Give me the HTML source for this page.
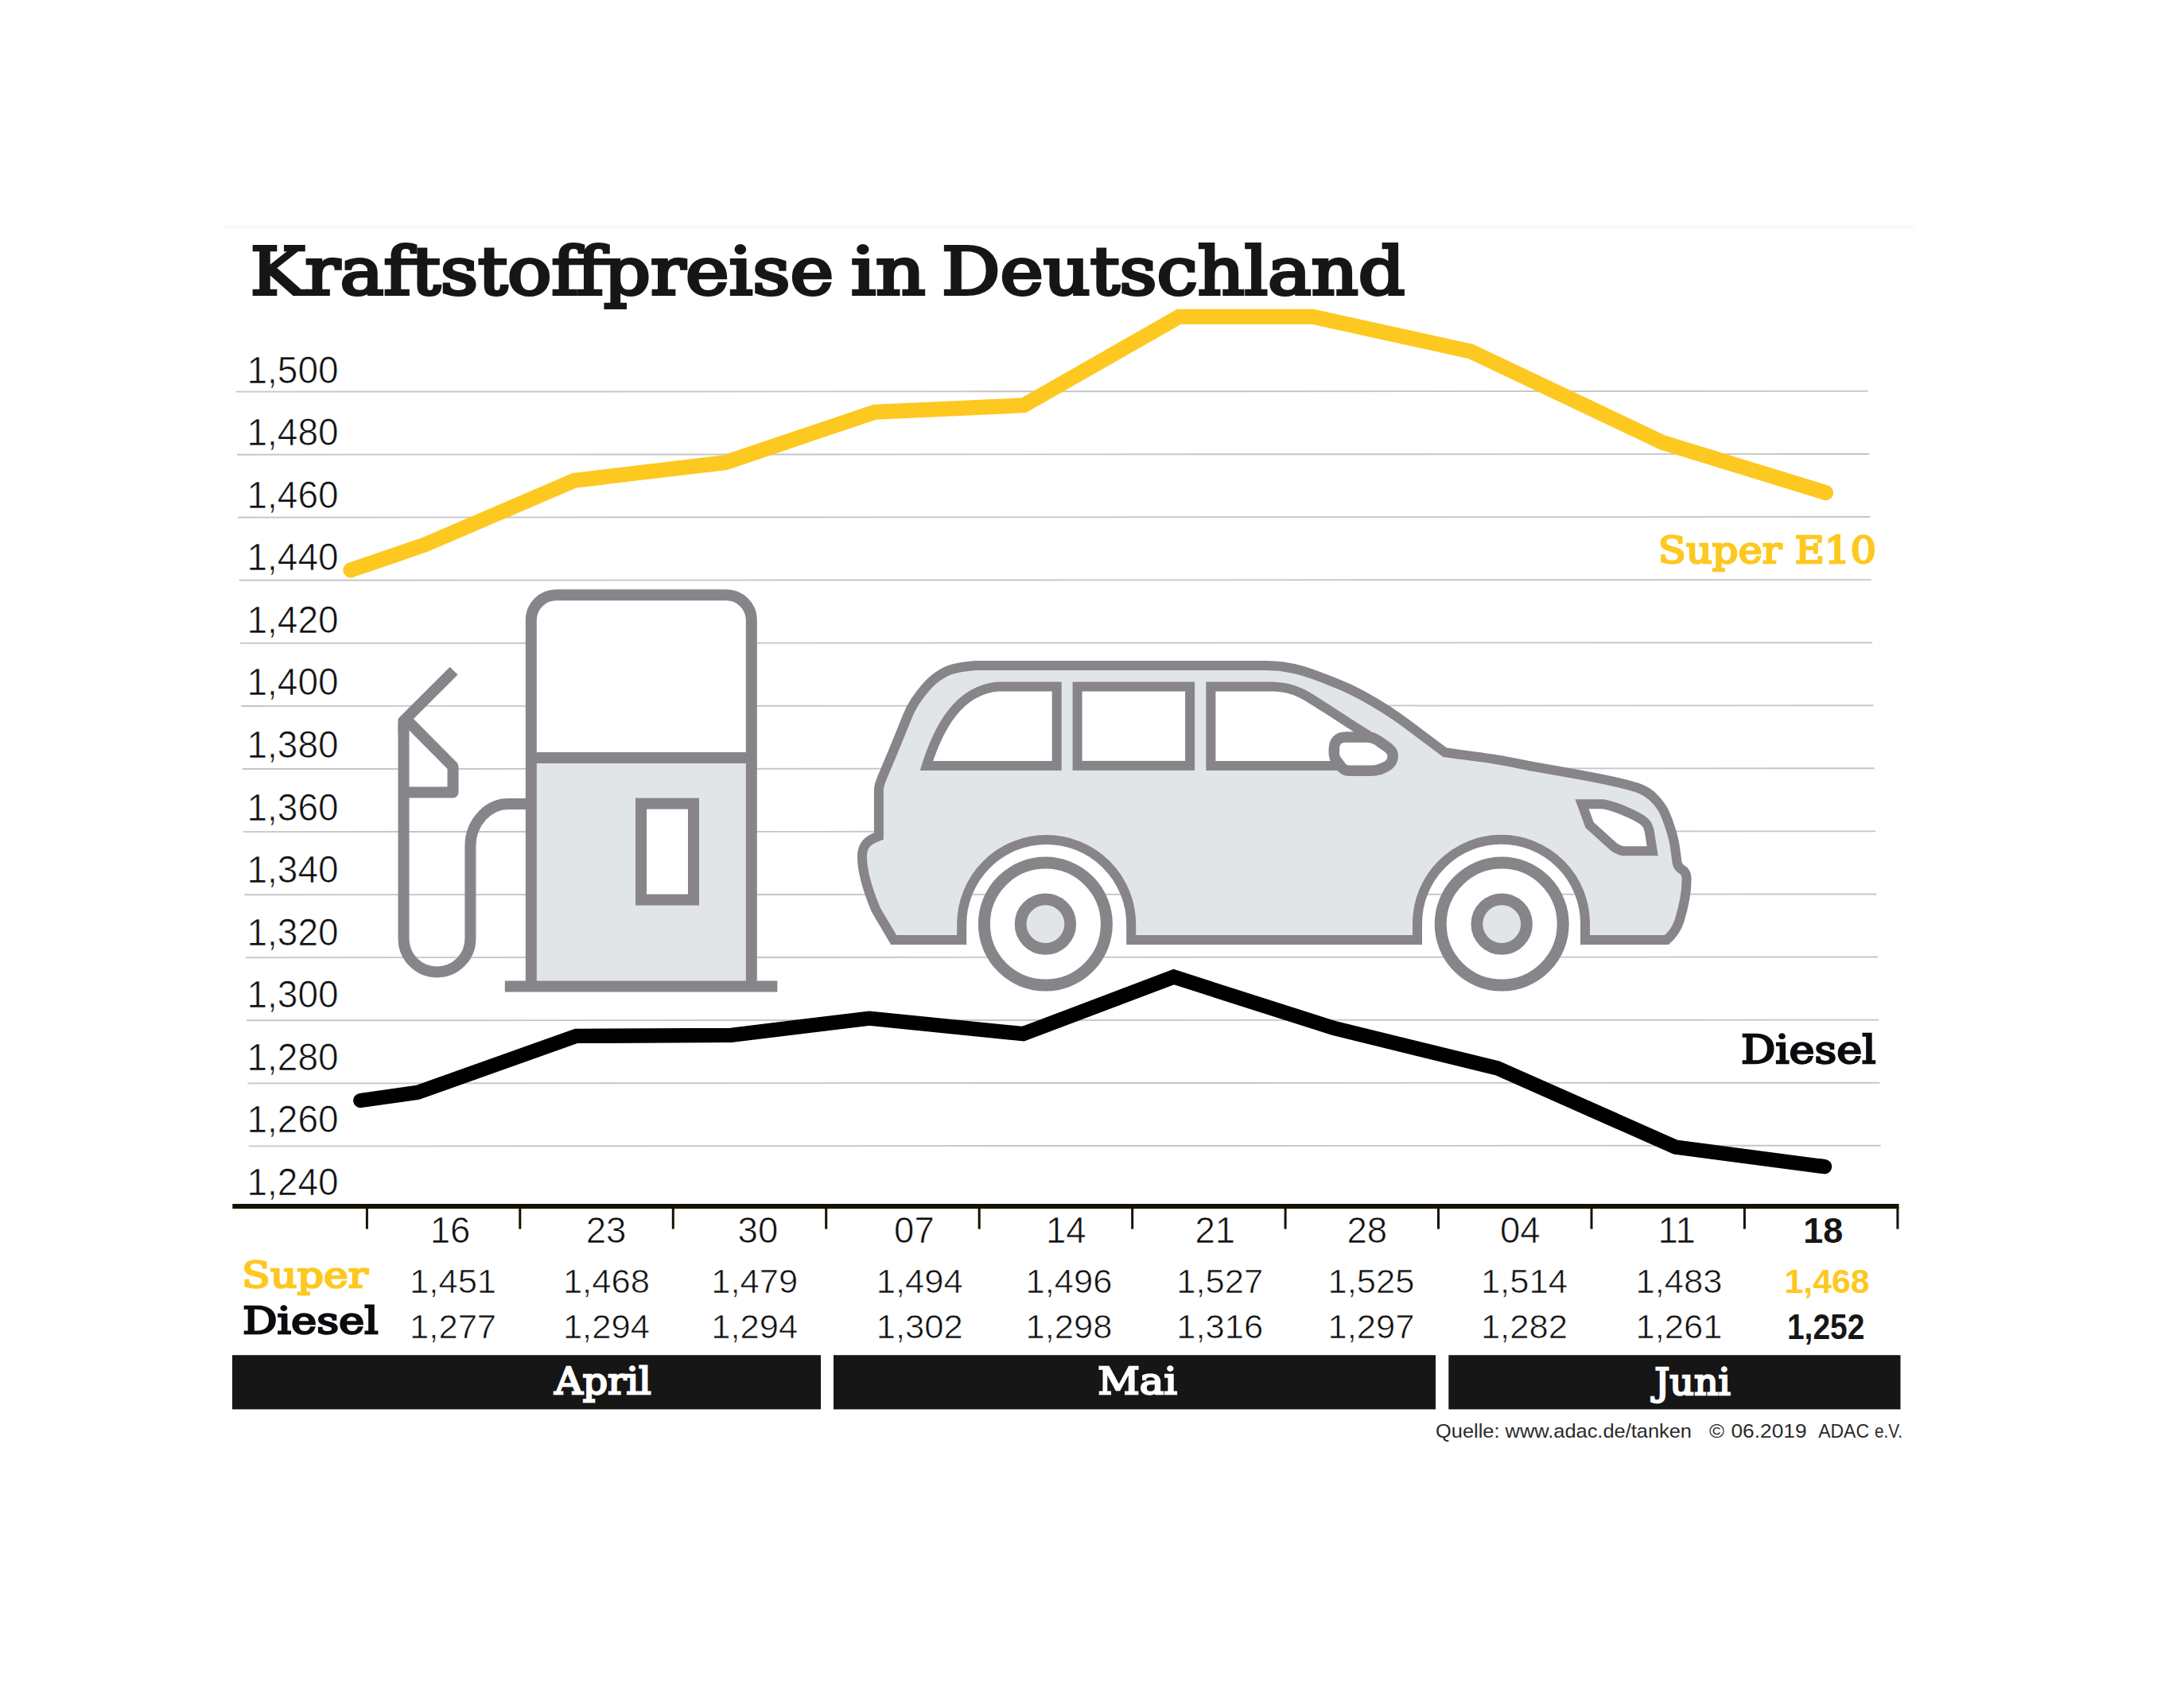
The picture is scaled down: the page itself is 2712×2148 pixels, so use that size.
<!DOCTYPE html>
<html lang="de"><head><meta charset="utf-8"><title>Kraftstoffpreise in Deutschland</title>
<style>html,body{margin:0;padding:0;background:#fff}svg{display:block}.sl{font-family:"DejaVu Serif","Liberation Serif",serif;font-weight:700}.sb{font-family:"DejaVu Serif","Liberation Serif",serif;font-weight:400;stroke-linejoin:miter}.lt{font-family:"Liberation Sans","DejaVu Sans",sans-serif;fill:#111;stroke:#fff;stroke-width:0.7px}.bd{font-family:"Liberation Sans","DejaVu Sans",sans-serif;font-weight:700}</style></head><body>
<svg width="2712" height="2148" viewBox="0 0 2712 2148">
<rect width="2712" height="2148" fill="#fff"/>
<line x1="280" y1="285.3" x2="2406" y2="285.3" stroke="#f6f6f6" stroke-width="3"/>
<g stroke="#c6c6c7" stroke-width="1.9">
<line x1="296.5" y1="492.6" x2="2348.8" y2="491.9"/>
<line x1="297.9" y1="571.7" x2="2350.1" y2="571.0"/>
<line x1="299.2" y1="650.7" x2="2351.5" y2="650.0"/>
<line x1="300.6" y1="729.8" x2="2352.8" y2="729.1"/>
<line x1="301.9" y1="808.9" x2="2354.1" y2="808.2"/>
<line x1="303.2" y1="888.0" x2="2355.5" y2="887.2"/>
<line x1="304.6" y1="967.0" x2="2356.8" y2="966.3"/>
<line x1="305.9" y1="1046.1" x2="2358.1" y2="1045.4"/>
<line x1="307.3" y1="1125.2" x2="2359.4" y2="1124.5"/>
<line x1="308.6" y1="1204.2" x2="2360.8" y2="1203.5"/>
<line x1="310.0" y1="1283.3" x2="2362.1" y2="1282.6"/>
<line x1="311.4" y1="1362.4" x2="2363.4" y2="1361.7"/>
<line x1="312.7" y1="1441.4" x2="2364.8" y2="1440.7"/>
</g>
<g fill="none" stroke="#87858a" stroke-width="14" stroke-linejoin="miter">
<path d="M667.8 1240.6V779.8A31.6 31.6 0 0 1 699.4 748.2H913.2A31.6 31.6 0 0 1 944.8 779.8V1240.6Z" fill="#fff" stroke="none"/>
<rect x="667.8" y="952.9" width="277" height="287.7" fill="#e2e5e8" stroke="none"/>
<path d="M667.8 1240.6V779.8A31.6 31.6 0 0 1 699.4 748.2H913.2A31.6 31.6 0 0 1 944.8 779.8V1240.6"/>
<path d="M667.8 952.9H944.8"/>
<path d="M634.8 1240.6H977.3"/>
<rect x="806" y="1010.6" width="66" height="121" fill="#fff"/>
<clipPath id="cl"><rect x="500.5" y="800" width="200" height="300"/></clipPath>
<path d="M570.6 843.6L495 919.2" clip-path="url(#cl)"/>
<path d="M507.5 901.5L569.5 964V996.6H507.5" stroke-linejoin="round" fill="#fff"/>
<path d="M507.5 908V1180.5A41.95 41.95 0 0 0 591.4 1180.5V1064A48 53 0 0 1 639.4 1011.1H668"/>
</g>
<g stroke="#87858a" stroke-width="12" stroke-linejoin="miter" fill="none">
<path d="M1226 836.9H1590C1600.3 837.1 1603.9 837.1 1612.0 838.3C1620.1 839.5 1629.3 841.2 1638.7 843.9C1648.1 846.6 1658.3 850.6 1668.2 854.5C1678.1 858.4 1688.0 862.2 1697.9 867.0C1707.8 871.8 1717.7 877.1 1727.6 883.0C1737.5 888.9 1747.5 895.2 1757.4 902.1C1767.4 909.0 1777.4 916.9 1787.3 924.3C1797.2 931.7 1807.0 939.0 1816.8 946.3C1839.2 949.4 1865.4 952.6 1884.0 955.6C1902.6 958.6 1911.1 961.0 1928.4 964.2C1945.7 967.4 1970.4 971.4 1987.7 974.6C2005.0 977.8 2019.6 980.7 2032.2 983.6C2044.8 986.5 2055.5 989.3 2063.1 992.3C2070.7 995.3 2073.0 997.5 2077.5 1001.6C2082.0 1005.7 2086.7 1011.1 2090.2 1017.0C2093.7 1022.9 2096.3 1030.4 2098.7 1037.2C2101.1 1044.0 2103.0 1050.0 2104.6 1057.7C2106.2 1065.4 2107.5 1077.1 2108.4 1083.3L2108.6 1085Q2109.5 1090 2114 1093Q2120.3 1096.5 2120.5 1104C2121 1122 2117 1140 2111.5 1158Q2107 1172 2095.5 1181.9H1993V1161.3A105.5 105.5 0 0 0 1782 1161.3V1181.9H1422.2V1162.5A106.5 106.5 0 0 0 1209.2 1162.5V1181.9H1123.6L1101.5 1144.6C1092 1122 1084 1095 1083.9 1077.1C1084 1062 1092 1056 1104.9 1051.5V996C1105.1 987.2 1105.2 990.2 1106.0 987.0C1106.8 983.8 1107.2 982.6 1109.5 977.0C1111.8 971.4 1115.6 962.8 1119.6 953.2C1123.6 943.7 1129.0 930.0 1133.3 919.7C1137.6 909.4 1141.3 899.2 1145.3 891.3C1149.3 883.4 1152.8 878.5 1157.5 872.5C1162.2 866.5 1167.2 860.0 1173.5 855.0C1179.8 850.0 1186.2 845.3 1195.0 842.3C1203.8 839.3 1215.2 837.8 1226.0 836.9Z" fill="#e2e5e8"/>
<path d="M1164.9 962.9H1328.7V863.5H1254.7C1205 868 1180 915 1164.9 962.9Z" fill="#fff"/>
<rect x="1354.6" y="863.5" width="141.5" height="99.4" fill="#fff"/>
<path d="M1522.4 962.9V863.5H1600C1608.3 863.9 1613.7 864.5 1620.0 866.0C1626.3 867.5 1629.8 868.5 1637.7 872.6C1645.6 876.7 1657.3 884.5 1667.2 890.8C1677.1 897.1 1688.3 904.5 1697.3 910.3C1706.3 916.1 1713.5 920.4 1721.4 925.5L1676 962.9Z" fill="#fff" stroke="none"/>
<path d="M1690 962.9H1522.4V863.5H1600C1608.3 863.9 1613.7 864.5 1620.0 866.0C1626.3 867.5 1629.8 868.5 1637.7 872.6C1645.6 876.7 1657.3 884.5 1667.2 890.8C1677.1 897.1 1688.3 904.5 1697.3 910.3C1706.3 916.1 1713.5 920.4 1721.4 925.5"/>
<path d="M1677.3 943Q1677.3 927 1692 927H1719Q1726 927 1732 931L1745.5 940.5Q1752.5 946 1751 953.5Q1749.5 961 1741.5 964.7L1735 967.5Q1729 969.3 1723 969.3H1696Q1690 969.3 1686 964L1680 956Q1677.3 952 1677.3 947Z" fill="#fff" stroke-width="13.5" stroke-linejoin="round"/>
<path d="M1989 1011.2H2015.3Q2030 1014 2042.7 1020Q2056 1025.5 2064 1030.7Q2070 1035 2071.7 1039Q2073.5 1043 2074.2 1048.2L2077.7 1070.2H2040.5Q2034 1069 2028.3 1064.5L1998.6 1037.5Z" fill="#fff"/>
</g>
<circle cx="1314.4" cy="1162.1" r="77" fill="#fff" stroke="#87858a" stroke-width="15"/>
<circle cx="1314.4" cy="1162.1" r="31.3" fill="#e2e5e8" stroke="#87858a" stroke-width="14.8"/>
<circle cx="1888.2" cy="1162.1" r="77" fill="#fff" stroke="#87858a" stroke-width="15"/>
<circle cx="1888.2" cy="1162.1" r="31.3" fill="#e2e5e8" stroke="#87858a" stroke-width="14.8"/>
<polyline fill="none" stroke="#fdc820" stroke-width="19" stroke-linecap="round" stroke-linejoin="miter" points="440.8,717 534.4,685 722.2,604.3 912.3,581.6 1100,518.2 1287.2,509.7 1482.5,398.2 1650.5,398.2 1849.2,442 2090.5,556.5 2295.6,619.6"/>
<polyline fill="none" stroke="#000" stroke-width="18.4" stroke-linecap="round" stroke-linejoin="miter" points="453.3,1384 525.2,1373.8 724.5,1302.9 919.2,1301.9 1093,1280.7 1286.5,1300.2 1475.7,1228.6 1677,1293 1882.3,1343.2 2106.7,1442.6 2294,1467.2"/>
<rect x="292.3" y="1514" width="2095.2" height="6.1" fill="#151200"/>
<rect x="459.9" y="1518" width="3" height="27.6" fill="#151200"/>
<rect x="652.3" y="1518" width="3" height="27.6" fill="#151200"/>
<rect x="844.8" y="1518" width="3" height="27.6" fill="#151200"/>
<rect x="1037.2" y="1518" width="3" height="27.6" fill="#151200"/>
<rect x="1229.7" y="1518" width="3" height="27.6" fill="#151200"/>
<rect x="1422.2" y="1518" width="3" height="27.6" fill="#151200"/>
<rect x="1614.6" y="1518" width="3" height="27.6" fill="#151200"/>
<rect x="1807.0" y="1518" width="3" height="27.6" fill="#151200"/>
<rect x="1999.5" y="1518" width="3" height="27.6" fill="#151200"/>
<rect x="2191.9" y="1518" width="3" height="27.6" fill="#151200"/>
<rect x="2384.4" y="1518" width="3" height="27.6" fill="#151200"/>
<rect x="292" y="1704.2" width="740.0" height="68.2" fill="#161616"/>
<rect x="1048" y="1704.2" width="757.0" height="68.2" fill="#161616"/>
<rect x="1821.3" y="1704.2" width="568.2" height="68.2" fill="#161616"/>
<text class="sb" x="314.70" y="370.4" font-size="82.6" fill="#161616" stroke="#161616" stroke-width="4" textLength="733.31" lengthAdjust="spacingAndGlyphs">Kraftstoffpreise</text>
<text class="sb" x="1070.02" y="370.4" font-size="82.6" fill="#161616" stroke="#161616" stroke-width="4" textLength="93.61" lengthAdjust="spacingAndGlyphs">in</text>
<text class="sb" x="1184.01" y="370.4" font-size="82.6" fill="#161616" stroke="#161616" stroke-width="4" textLength="582.29" lengthAdjust="spacingAndGlyphs">Deutschland</text>
<text class="lt" x="310.5" y="481.6" font-size="47.5" textLength="115" lengthAdjust="spacingAndGlyphs">1,500</text>
<text class="lt" x="310.5" y="560.2" font-size="47.5" textLength="115" lengthAdjust="spacingAndGlyphs">1,480</text>
<text class="lt" x="310.5" y="638.7" font-size="47.5" textLength="115" lengthAdjust="spacingAndGlyphs">1,460</text>
<text class="lt" x="310.5" y="717.3" font-size="47.5" textLength="115" lengthAdjust="spacingAndGlyphs">1,440</text>
<text class="lt" x="310.5" y="795.8" font-size="47.5" textLength="115" lengthAdjust="spacingAndGlyphs">1,420</text>
<text class="lt" x="310.5" y="874.4" font-size="47.5" textLength="115" lengthAdjust="spacingAndGlyphs">1,400</text>
<text class="lt" x="310.5" y="953.0" font-size="47.5" textLength="115" lengthAdjust="spacingAndGlyphs">1,380</text>
<text class="lt" x="310.5" y="1031.5" font-size="47.5" textLength="115" lengthAdjust="spacingAndGlyphs">1,360</text>
<text class="lt" x="310.5" y="1110.1" font-size="47.5" textLength="115" lengthAdjust="spacingAndGlyphs">1,340</text>
<text class="lt" x="310.5" y="1188.6" font-size="47.5" textLength="115" lengthAdjust="spacingAndGlyphs">1,320</text>
<text class="lt" x="310.5" y="1267.2" font-size="47.5" textLength="115" lengthAdjust="spacingAndGlyphs">1,300</text>
<text class="lt" x="310.5" y="1345.8" font-size="47.5" textLength="115" lengthAdjust="spacingAndGlyphs">1,280</text>
<text class="lt" x="310.5" y="1424.3" font-size="47.5" textLength="115" lengthAdjust="spacingAndGlyphs">1,260</text>
<text class="lt" x="310.5" y="1502.9" font-size="47.5" textLength="115" lengthAdjust="spacingAndGlyphs">1,240</text>
<text class="sb" x="2084.83" y="708" font-size="46.2" fill="#fdc820" stroke="#fdc820" stroke-width="2.4" textLength="274.12" lengthAdjust="spacingAndGlyphs">Super E10</text>
<text class="sb" x="2188.96" y="1337.1" font-size="49" fill="#0c0c10" stroke="#0c0c10" stroke-width="2.4" textLength="169.55" lengthAdjust="spacingAndGlyphs">Diesel</text>
<text class="sb" x="303.97" y="1618.5" font-size="45.7" fill="#fdc820" stroke="#fdc820" stroke-width="2.4" textLength="158.82" lengthAdjust="spacingAndGlyphs">Super</text>
<text class="sb" x="304.98" y="1676.7" font-size="46.9" fill="#0c0c10" stroke="#0c0c10" stroke-width="2.4" textLength="170.73" lengthAdjust="spacingAndGlyphs">Diesel</text>
<text class="lt" x="566.1" y="1563" font-size="45.6" text-anchor="middle">16</text>
<text class="lt" x="762.0" y="1563" font-size="45.6" text-anchor="middle">23</text>
<text class="lt" x="952.9" y="1563" font-size="45.6" text-anchor="middle">30</text>
<text class="lt" x="1149.4" y="1563" font-size="45.6" text-anchor="middle">07</text>
<text class="lt" x="1340.3" y="1563" font-size="45.6" text-anchor="middle">14</text>
<text class="lt" x="1527.8" y="1563" font-size="45.6" text-anchor="middle">21</text>
<text class="lt" x="1718.8" y="1563" font-size="45.6" text-anchor="middle">28</text>
<text class="lt" x="1911.3" y="1563" font-size="45.6" text-anchor="middle">04</text>
<text class="lt" x="2108.1" y="1563" font-size="45.6" text-anchor="middle">11</text>
<text class="bd" x="2267.17" y="1563.4" font-size="45" fill="#161616" textLength="50.00" lengthAdjust="spacingAndGlyphs">18</text>
<text class="lt" x="569.6" y="1625.8" font-size="43.4" text-anchor="middle" textLength="109" lengthAdjust="spacingAndGlyphs">1,451</text>
<text class="lt" x="569.6" y="1683.2" font-size="43.4" text-anchor="middle" textLength="109" lengthAdjust="spacingAndGlyphs">1,277</text>
<text class="lt" x="762.4" y="1625.8" font-size="43.4" text-anchor="middle" textLength="109" lengthAdjust="spacingAndGlyphs">1,468</text>
<text class="lt" x="762.4" y="1683.2" font-size="43.4" text-anchor="middle" textLength="109" lengthAdjust="spacingAndGlyphs">1,294</text>
<text class="lt" x="948.8" y="1625.8" font-size="43.4" text-anchor="middle" textLength="109" lengthAdjust="spacingAndGlyphs">1,479</text>
<text class="lt" x="948.8" y="1683.2" font-size="43.4" text-anchor="middle" textLength="109" lengthAdjust="spacingAndGlyphs">1,294</text>
<text class="lt" x="1156.2" y="1625.8" font-size="43.4" text-anchor="middle" textLength="109" lengthAdjust="spacingAndGlyphs">1,494</text>
<text class="lt" x="1156.2" y="1683.2" font-size="43.4" text-anchor="middle" textLength="109" lengthAdjust="spacingAndGlyphs">1,302</text>
<text class="lt" x="1344" y="1625.8" font-size="43.4" text-anchor="middle" textLength="109" lengthAdjust="spacingAndGlyphs">1,496</text>
<text class="lt" x="1344" y="1683.2" font-size="43.4" text-anchor="middle" textLength="109" lengthAdjust="spacingAndGlyphs">1,298</text>
<text class="lt" x="1533.8" y="1625.8" font-size="43.4" text-anchor="middle" textLength="109" lengthAdjust="spacingAndGlyphs">1,527</text>
<text class="lt" x="1533.8" y="1683.2" font-size="43.4" text-anchor="middle" textLength="109" lengthAdjust="spacingAndGlyphs">1,316</text>
<text class="lt" x="1724" y="1625.8" font-size="43.4" text-anchor="middle" textLength="109" lengthAdjust="spacingAndGlyphs">1,525</text>
<text class="lt" x="1724" y="1683.2" font-size="43.4" text-anchor="middle" textLength="109" lengthAdjust="spacingAndGlyphs">1,297</text>
<text class="lt" x="1916.4" y="1625.8" font-size="43.4" text-anchor="middle" textLength="109" lengthAdjust="spacingAndGlyphs">1,514</text>
<text class="lt" x="1916.4" y="1683.2" font-size="43.4" text-anchor="middle" textLength="109" lengthAdjust="spacingAndGlyphs">1,282</text>
<text class="lt" x="2111" y="1625.8" font-size="43.4" text-anchor="middle" textLength="109" lengthAdjust="spacingAndGlyphs">1,483</text>
<text class="lt" x="2111" y="1683.2" font-size="43.4" text-anchor="middle" textLength="109" lengthAdjust="spacingAndGlyphs">1,261</text>
<text class="bd" x="2243.57" y="1626" font-size="43" fill="#fdc820" textLength="106.94" lengthAdjust="spacingAndGlyphs">1,468</text>
<text class="bd" x="2246.96" y="1684" font-size="43.5" fill="#161616" textLength="97.37" lengthAdjust="spacingAndGlyphs">1,252</text>
<text class="sb" x="697.37" y="1753.2" font-size="46.7" fill="#fff" stroke="#fff" stroke-width="2.4" textLength="121.34" lengthAdjust="spacingAndGlyphs">April</text>
<text class="sb" x="1380.23" y="1753.2" font-size="46.7" fill="#fff" stroke="#fff" stroke-width="2.4" textLength="99.71" lengthAdjust="spacingAndGlyphs">Mai</text>
<text class="sb" x="2080.24" y="1753.6" font-size="46.7" fill="#fff" stroke="#fff" stroke-width="2.4" textLength="95.50" lengthAdjust="spacingAndGlyphs">Juni</text>
<g font-family="Liberation Sans,DejaVu Sans,sans-serif" font-size="24.4" fill="#2a2a2a">
<text x="1805" y="1807.6" textLength="322" lengthAdjust="spacingAndGlyphs">Quelle: www.adac.de/tanken</text>
<text x="2149" y="1807.6" textLength="19" lengthAdjust="spacingAndGlyphs">©</text>
<text x="2176.5" y="1807.6" textLength="95" lengthAdjust="spacingAndGlyphs">06.2019</text>
<text x="2286.2" y="1807.6" textLength="63.8" lengthAdjust="spacingAndGlyphs">ADAC</text>
<text x="2357" y="1807.6" textLength="35" lengthAdjust="spacingAndGlyphs">e.V.</text>
</g>
</svg></body></html>
